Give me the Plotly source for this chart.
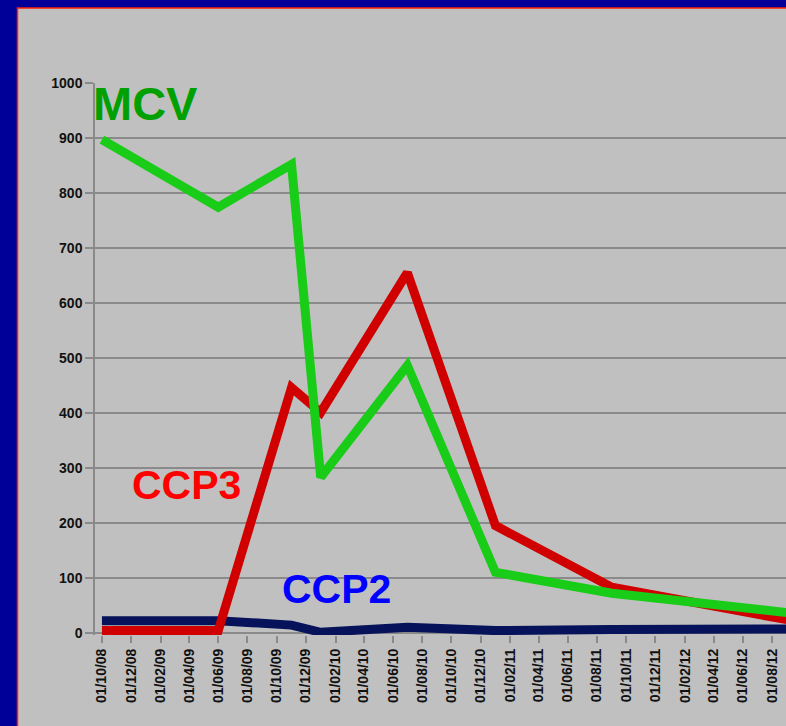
import plotly.graph_objects as go

# ---- data ----
dates = ["2008-10-01", "2009-06-01", "2009-11-01", "2010-01-01",
         "2010-07-01", "2011-01-01", "2011-09-01", "2012-10-01"]
mcv = [897, 774, 852, 283, 486, 110, 72, 34]
ccp3 = [4, 4, 446, 401, 655, 195, 83, 19]
ccp2 = [22, 22, 14, 1, 10, 4, 6, 7]
tick_dates = ["2008-10-01", "2008-12-01", "2009-02-01", "2009-04-01", "2009-06-01",
              "2009-08-01", "2009-10-01", "2009-12-01", "2010-02-01", "2010-04-01",
              "2010-06-01", "2010-08-01", "2010-10-01", "2010-12-01", "2011-02-01",
              "2011-04-01", "2011-06-01", "2011-08-01", "2011-10-01", "2011-12-01",
              "2012-02-01", "2012-04-01", "2012-06-01", "2012-08-01"]
tick_labels = ["01/10/08", "01/12/08", "01/02/09", "01/04/09", "01/06/09",
               "01/08/09", "01/10/09", "01/12/09", "01/02/10", "01/04/10",
               "01/06/10", "01/08/10", "01/10/10", "01/12/10", "01/02/11",
               "01/04/11", "01/06/11", "01/08/11", "01/10/11", "01/12/11",
               "01/02/12", "01/04/12", "01/06/12", "01/08/12"]
y_ticks = [0, 100, 200, 300, 400, 500, 600, 700, 800, 900, 1000]

# ---- layout geometry ----
W_PAGE, H_PAGE = 786, 726
L, T = 95, 82.5
PW = W_PAGE - L
Y0, Y1 = -4, 1000
PH = (Y1 - Y0) * 0.55
B = H_PAGE - T - PH


def px(x):
    return (x - L) / PW


def py(y):
    return 1 - (y - T) / PH


fig = go.Figure()
fig.add_trace(go.Scatter(x=dates, y=ccp2, mode="lines", name="CCP2",
                         line=dict(color="#06125a", width=9)))
fig.add_trace(go.Scatter(x=dates, y=ccp3, mode="lines", name="CCP3",
                         line=dict(color="#d00000", width=9)))
fig.add_trace(go.Scatter(x=dates, y=mcv, mode="lines", name="MCV",
                         line=dict(color="#18cc18", width=9)))

FAM = "Liberation Sans, Arial, sans-serif"

fig.update_layout(
    width=W_PAGE, height=H_PAGE,
    margin=dict(l=L, r=0, t=T, b=B, pad=0),
    paper_bgcolor="#000099",
    plot_bgcolor="rgba(0,0,0,0)",
    showlegend=False,
    xaxis=dict(
        type="date",
        range=["2008-09-16 12:00", "2012-08-30"],
        tickvals=tick_dates, ticktext=tick_labels,
        tickangle=-90,
        tickfont=dict(family=FAM, size=14, color="#111111", weight="bold"),
        ticks="outside", ticklen=7, tickcolor="#8a8a8a", tickwidth=1.5,
        showgrid=False, showline=False, zeroline=False,
    ),
    yaxis=dict(
        range=[Y0, Y1],
        tickvals=y_ticks,
        tickfont=dict(family=FAM, size=14, color="#111111", weight="bold"),
        ticks="outside", ticklen=8, tickcolor="#8a8a8a", tickwidth=1.5,
        showgrid=True, gridcolor="#8a8a8a", gridwidth=1.5,
        showline=True, linecolor="#8a8a8a", linewidth=1.5,
        zeroline=True, zerolinecolor="#8a8a8a", zerolinewidth=1.5,
    ),
    shapes=[
        dict(type="rect", xref="paper", yref="paper", layer="below",
             x0=px(17.5), x1=px(820), y0=py(760), y1=py(7.5),
             fillcolor="#c0c0c0", line=dict(color="#ff2000", width=1.5)),
    ],
    annotations=[
        dict(text="<b>MCV</b>", xref="paper", yref="paper", x=px(145), y=py(103),
             xanchor="center", yanchor="middle", showarrow=False,
             font=dict(family=FAM, size=47, color="#00a000")),
        dict(text="<b>CCP3</b>", xref="paper", yref="paper", x=px(186), y=py(485),
             xanchor="center", yanchor="middle", showarrow=False,
             font=dict(family=FAM, size=41, color="#ff0000")),
        dict(text="<b>CCP2</b>", xref="paper", yref="paper", x=px(336), y=py(589),
             xanchor="center", yanchor="middle", showarrow=False,
             font=dict(family=FAM, size=41, color="#0000ff")),
    ],
)

fig.write_html(
    "out.html",
    config={"displayModeBar": False},
    post_script="document.body.style.margin='0';document.body.style.overflow='hidden';",
)
